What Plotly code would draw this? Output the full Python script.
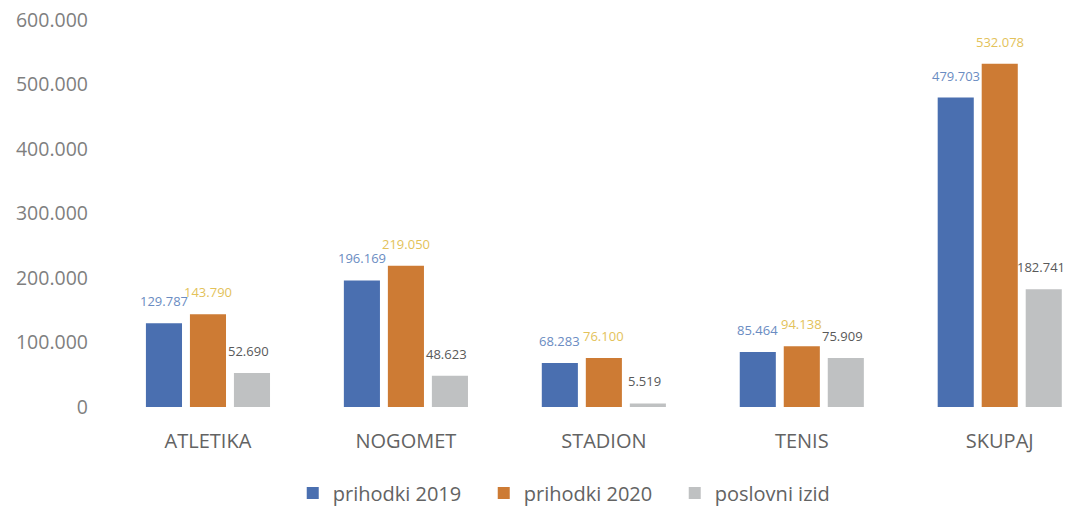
import plotly.graph_objects as go

categories = ["ATLETIKA", "NOGOMET", "STADION", "TENIS", "SKUPAJ"]
prihodki_2019 = [129787, 196169, 68283, 85464, 479703]
prihodki_2020 = [143790, 219050, 76100, 94138, 532078]
poslovni_izid = [52690, 48623, 5519, 75909, 182741]
y_ticks = [0, 100000, 200000, 300000, 400000, 500000, 600000]

series = [
    ("prihodki 2019", prihodki_2019, "#4a6fb0", "#6a8cc2", -44),
    ("prihodki 2020", prihodki_2020, "#cd7b34", "#e3c25a", 0),
    ("poslovni izid", poslovni_izid, "#bfc1c2", "#595959", 41),
]

fig = go.Figure()
annotations = []
for name, vals, col, tcol, shift in series:
    fig.add_trace(go.Bar(
        x=categories, y=vals, name=name,
        marker=dict(color=col, line=dict(width=0)),
        cliponaxis=False,
    ))
    for c, v in zip(categories, vals):
        annotations.append(dict(
            x=c, y=v, xref="x", yref="y", xshift=shift, yshift=11,
            text=f"{v:,}".replace(",", "."), showarrow=False,
            xanchor="center", yanchor="bottom",
            font=dict(family="Open Sans, DejaVu Sans, sans-serif", size=13, color=tcol),
        ))

fig.update_layout(
    width=1063, height=499,
    margin=dict(l=101, r=0, t=12, b=100, autoexpand=False),
    paper_bgcolor="white", plot_bgcolor="white",
    separators=",.",
    barmode="group", bargap=0.333, bargroupgap=0.18,
    annotations=annotations,
    font=dict(family="Open Sans, DejaVu Sans, sans-serif", color="#595959"),
    xaxis=dict(range=[-0.5, 4.36], showline=False, showgrid=False, ticks="",
               tickfont=dict(size=20, color="#636363"), ticklabelstandoff=20,
               automargin=False),
    yaxis=dict(range=[0, 600000], tickvals=y_ticks, tickformat=",.0f",
               showgrid=False, zeroline=False, showline=False, ticks="",
               tickfont=dict(size=19.5, color="#7f7f7f"), ticklabelstandoff=20,
               ticklabeloverflow="allow", automargin=False),
    legend=dict(orientation="h", x=0.191, xanchor="left", y=-0.222, yanchor="middle",
                font=dict(size=20, color="#636363"), itemwidth=30,
                entrywidth=146, entrywidthmode="pixels", traceorder="normal"),
    showlegend=True,
)

fig.write_html("out.html")
